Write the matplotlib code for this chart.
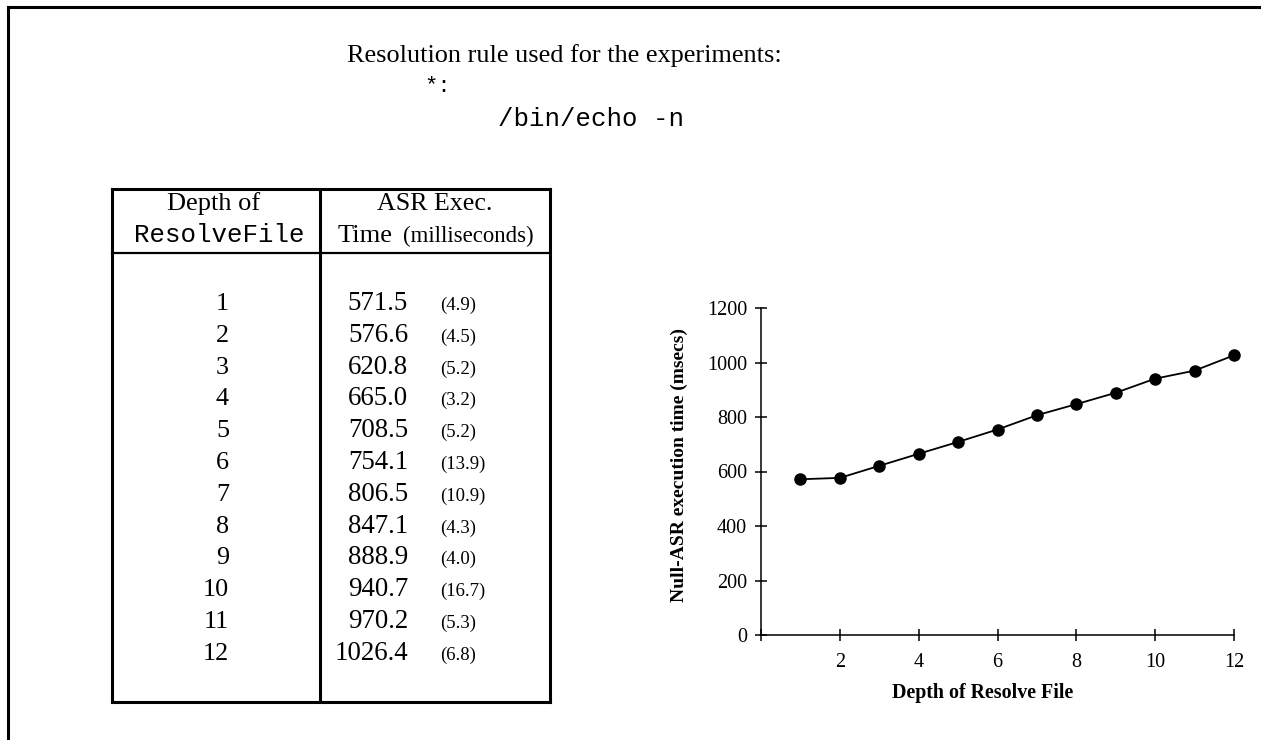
import matplotlib
matplotlib.use('Agg')
import matplotlib.pyplot as plt
from matplotlib.lines import Line2D

# data (Null-ASR execution time vs depth of ResolveFile)
depths = [1, 2, 3, 4, 5, 6, 7, 8, 9, 10, 11, 12]
exec_ms = [571.5, 576.6, 620.8, 665.0, 708.5, 754.1, 806.5, 847.1, 888.9, 940.7, 970.2, 1026.4]
std_ms = [4.9, 4.5, 5.2, 3.2, 5.2, 13.9, 10.9, 4.3, 4.0, 16.7, 5.3, 6.8]
x_ticks = [0, 2, 4, 6, 8, 10, 12]
x_ticklabels = ['', '2', '4', '6', '8', '10', '12']
y_ticks = [0, 200, 400, 600, 800, 1000, 1200]

W, H = 1261, 740
SERIF = 'Liberation Serif'
MONO = 'Liberation Mono'

fig = plt.figure(figsize=(W / 100, H / 100), dpi=100)

def fx(x):
    return x / W

def fy(y):
    return 1 - y / H

def hline(x0, x1, y, lw=2.2):
    fig.add_artist(Line2D([fx(x0), fx(x1)], [fy(y), fy(y)], color='black', lw=lw,
                          transform=fig.transFigure, solid_capstyle='projecting'))

def vline(x, y0, y1, lw=2.2):
    fig.add_artist(Line2D([fx(x), fx(x)], [fy(y0), fy(y1)], color='black', lw=lw,
                          transform=fig.transFigure, solid_capstyle='projecting'))

# page border (top and left)
hline(8, 1261, 6.5)
vline(8, 6.5, 740)

# header text
fig.text(fx(347), fy(62), 'Resolution rule used for the experiments:', family=SERIF,
         fontsize=18.9, ha='left', va='baseline')
fig.text(fx(424), fy(92), '*:', family=MONO, fontsize=16, ha='left', va='baseline')
fig.text(fx(498), fy(126), '/bin/echo -n', family=MONO, fontsize=18.5, ha='left', va='baseline')

# table frame
tl, tr, tt, tb, tmid, thead = 112, 550, 189, 702, 320, 253
hline(tl, tr, tt)
hline(tl, tr, tb)
vline(tl, tt, tb)
vline(tr, tt, tb)
vline(tmid, tt, tb)
hline(tl, tr, thead, lw=1.6)

# table header
fig.text(fx(214), fy(210), 'Depth of', family=SERIF, fontsize=19, ha='center', va='baseline')
fig.text(fx(219), fy(242), 'ResolveFile', family=MONO, fontsize=18.6, ha='center', va='baseline')
fig.text(fx(435), fy(210), 'ASR Exec.', family=SERIF, fontsize=18.7, ha='center', va='baseline')
fig.text(fx(338), fy(242), 'Time', family=SERIF, fontsize=19, ha='left', va='baseline')
fig.text(fx(534), fy(242), '(milliseconds)', family=SERIF, fontsize=16.4, ha='right', va='baseline')

# table rows
for i, (d, v, s) in enumerate(zip(depths, exec_ms, std_ms)):
    yb = 310 + 31.8 * i
    fig.text(fx(229), fy(yb), str(d), family=SERIF, fontsize=18.8, ha='right', va='baseline')
    fig.text(fx(408), fy(yb), f'{v:.1f}', family=SERIF, fontsize=19.4, ha='right', va='baseline')
    fig.text(fx(440), fy(yb), f'({s:.1f})', family=SERIF, fontsize=13.5, ha='left', va='baseline')

# line chart
ax = fig.add_axes([fx(761), fy(635), (1234 - 761) / W, (635 - 308) / H])
ax.plot(depths, exec_ms, color='black', lw=1.3, marker='o', markersize=8, clip_on=False, zorder=3)
ax.set_xlim(0, 12)
ax.set_ylim(0, 1200)
ax.set_xticks(x_ticks)
ax.set_xticklabels(x_ticklabels)
ax.set_yticks(y_ticks)
for sp in ['top', 'right']:
    ax.spines[sp].set_visible(False)
for sp in ['left', 'bottom']:
    ax.spines[sp].set_linewidth(1.1)
ax.tick_params(direction='inout', length=8, width=1.1, labelsize=14.5)
ax.tick_params(axis='x', pad=9)
ax.tick_params(axis='y', pad=6)
for lab in ax.get_xticklabels() + ax.get_yticklabels():
    lab.set_family(SERIF)
ax.set_xlabel('Depth of Resolve File', family=SERIF, fontweight='bold', fontsize=14.4)
ax.xaxis.set_label_coords((983 - 761) / (1234 - 761), -(693 - 635) / (635 - 308), transform=ax.transAxes)
ax.xaxis.label.set_va('center')
ax.set_ylabel('Null-ASR execution time (msecs)', family=SERIF, fontweight='bold', fontsize=14)
ax.yaxis.set_label_coords(-(761 - 679) / (1234 - 761), (635 - 465) / (635 - 308), transform=ax.transAxes)
ax.yaxis.label.set_va('center')

fig.savefig('out.png', dpi=100)
